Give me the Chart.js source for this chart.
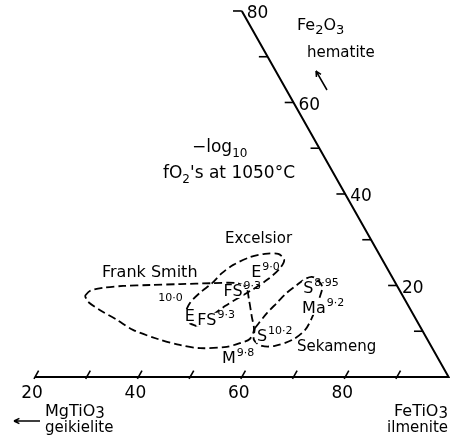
<!DOCTYPE html>
<html>
<head>
<meta charset="utf-8">
<script src="https://cdn.jsdelivr.net/npm/chart.js@4.4.0/dist/chart.umd.min.js"></script>
<style>
  html, body { margin: 0; padding: 0; background: #fff; }
  #wrap { width: 450px; height: 443px; }
</style>
</head>
<body>
<div id="wrap"><canvas id="chart"></canvas></div>
<script>
// Ternary frame (mol %): FeTiO3 along the base, Fe2O3 up the right edge
const baseTicks = [20, 30, 40, 50, 60, 70, 80, 90];
const baseLabels = [20, 40, 60, 80];
const edgeTicks = [10, 20, 30, 40, 50, 60, 70, 80];
const edgeLabels = [20, 40, 60, 80];

// Field outlines (FeTiO3 %, Fe2O3 %)
const frankSmithFeTiO3 = [20.8, 21.2, 23.4, 27.1, 32.2, 37.9, 44.0, 48.8, 51.1, 53.0, 55.4, 57.2, 57.4, 55.9, 53.8, 48.8, 44.5, 39.6, 33.8, 29.6, 25.3, 22.1];
const frankSmithFe2O3 = [17.7, 18.8, 19.5, 19.9, 20.1, 20.3, 20.5, 20.5, 19.5, 16.8, 13.1, 10.3, 8.3, 7.4, 6.6, 6.3, 7.0, 8.3, 10.3, 12.5, 14.6, 16.4];

const excelsiorFeTiO3 = [45.8, 43.6, 42.2, 41.9, 42.7, 44.0, 44.8, 46.1, 48.5, 51.0, 53.6, 55.4, 55.5, 54.4, 52.6, 50.9, 49.0, 47.3];
const excelsiorFe2O3 = [11.1, 12.0, 13.6, 16.2, 18.4, 20.5, 22.7, 24.5, 26.2, 26.9, 26.9, 25.6, 23.8, 21.4, 19.2, 17.5, 15.5, 13.1];

const sekamengFeTiO3 = [57.2, 57.9, 58.7, 59.5, 60.6, 61.5, 62.6, 64.1, 65.7, 66.3, 66.7, 67.1, 67.1, 65.7, 63.0, 60.5, 58.3];
const sekamengFe2O3 = [10.7, 14.0, 16.2, 18.4, 20.1, 21.4, 21.9, 21.2, 19.7, 17.7, 15.3, 12.9, 10.3, 8.1, 6.8, 6.8, 8.1];

// Samples and their -log10 fO2 at 1050 C
const sampleNames = ['E', 'FS', 'E', 'FS', 'S', 'M', 'S', 'Ma'];
const sampleFO2 = ['9·0', '9·3', '10·0', '9·3', '10·2', '9·8', '8·95', '9·2'];
const sampleFeTiO3 = [51.3, 48.9, 43.3, 47.0, 59.4, 55.4, 63.1, 66.4];
const sampleFe2O3 = [23.0, 18.8, 13.3, 12.5, 9.0, 4.2, 19.5, 15.1];

const FONT = '"DejaVu Sans", sans-serif';
const INK = '#000';

// composition -> plot coords (x along base, y = Fe2O3)
const toXY = (feTiO3, fe2O3) => ({ x: feTiO3 + fe2O3 / 2, y: fe2O3 });
const loop = (a, b) => {
  const pts = a.map((v, i) => toXY(v, b[i]));
  pts.push(pts[0]);
  return pts;
};

const solid = { showLine: true, borderColor: INK, pointRadius: 0, tension: 0 };
const dashed = {
  showLine: true, borderColor: INK, borderWidth: 1.8, borderDash: [8, 4],
  pointRadius: 0, tension: 0.3, fill: false
};

const datasets = [
  Object.assign({ data: [toXY(20, 0), toXY(100, 0), toXY(20, 80)], borderWidth: 2 }, solid)
];
baseTicks.forEach(t => {
  datasets.push(Object.assign({ data: [toXY(t, -0.4), toXY(t, 1.4)], borderWidth: 1.6 }, solid));
});
edgeTicks.forEach(t => {
  datasets.push(Object.assign({ data: [toXY(100 - t, t), toXY(100 - t - 1.7, t)], borderWidth: 1.6 }, solid));
});
datasets.push(Object.assign({ data: loop(frankSmithFeTiO3, frankSmithFe2O3) }, dashed));
datasets.push(Object.assign({ data: loop(excelsiorFeTiO3, excelsiorFe2O3) }, dashed));
datasets.push(Object.assign({ data: loop(sekamengFeTiO3, sekamengFe2O3) }, dashed));

function runs(ctx, x, y, parts) {
  ctx.textAlign = 'left';
  ctx.textBaseline = 'alphabetic';
  parts.forEach(p => {
    ctx.font = p[1] + 'px ' + FONT;
    ctx.fillText(p[0], x, y + (p[2] || 0));
    x += ctx.measureText(p[0]).width;
  });
  return x;
}

function runsWidth(ctx, parts) {
  let w = 0;
  parts.forEach(p => { ctx.font = p[1] + 'px ' + FONT; w += ctx.measureText(p[0]).width; });
  return w;
}

function arrow(ctx, x1, y1, x2, y2) {
  const a = Math.atan2(y2 - y1, x2 - x1);
  ctx.beginPath();
  ctx.moveTo(x1, y1);
  ctx.lineTo(x2, y2);
  ctx.moveTo(x2, y2);
  ctx.lineTo(x2 - 6 * Math.cos(a - 0.45), y2 - 6 * Math.sin(a - 0.45));
  ctx.moveTo(x2, y2);
  ctx.lineTo(x2 - 6 * Math.cos(a + 0.45), y2 - 6 * Math.sin(a + 0.45));
  ctx.stroke();
}

const labels = {
  id: 'labels',
  afterDatasetsDraw(chart) {
    const { ctx, scales: { x, y } } = chart;
    const px = p => [x.getPixelForValue(p.x), y.getPixelForValue(p.y)];
    ctx.save();
    ctx.fillStyle = INK;
    ctx.strokeStyle = INK;
    ctx.lineWidth = 1.5;

    // base numbers
    ctx.font = '17px ' + FONT;
    ctx.textAlign = 'center';
    ctx.textBaseline = 'middle';
    baseLabels.forEach(v => {
      const [cx] = px(toXY(v, 0));
      ctx.fillText(String(v), cx - 3, 394);
    });
    // right edge numbers
    ctx.textAlign = 'left';
    edgeLabels.forEach(v => {
      const [cx, cy] = px(toXY(100 - v, v));
      ctx.fillText(String(v), cx + 5, cy + 3);
    });

    // corner names
    runs(ctx, 45, 416, [['MgTiO', 16], ['3', 15, 2]]);
    ctx.font = '15px ' + FONT;
    ctx.fillText('geikielite', 45, 432);
    arrow(ctx, 40, 421, 14, 421);
    const fe = [['FeTiO', 16], ['3', 15, 2]];
    runs(ctx, 448 - runsWidth(ctx, fe), 416, fe);
    ctx.font = '15px ' + FONT;
    ctx.textAlign = 'right';
    ctx.fillText('ilmenite', 448, 432);
    runs(ctx, 297, 30, [['Fe', 16], ['2', 13, 4], ['O', 16], ['3', 13, 4]]);
    ctx.font = '15px ' + FONT;
    ctx.fillText('hematite', 307, 57);
    arrow(ctx, 327, 90, 316, 71);

    // title
    runs(ctx, 192, 152, [['\u2212log', 17], ['10', 12, 5]]);
    runs(ctx, 163, 178, [['f', 17], ['O', 17], ['2', 12, 5], ["'s at 1050°C", 17]]);

    // field names
    ctx.font = '15px ' + FONT;
    ctx.textAlign = 'left';
    ctx.fillText('Excelsior', 225, 243);
    ctx.font = '16px ' + FONT;
    ctx.fillText('Frank Smith', 102, 277);
    ctx.font = '15px ' + FONT;
    ctx.fillText('Sekameng', 297, 351);

    // sample labels with superscript fO2
    sampleNames.forEach((name, i) => {
      const [cx, cy] = px(toXY(sampleFeTiO3[i], sampleFe2O3[i]));
      ctx.font = '16px ' + FONT;
      const w = ctx.measureText(name).width;
      ctx.fillStyle = '#fff';
      ctx.fillRect(cx - w / 2 - 1, cy - 7, w + 2, 14);
      ctx.fillStyle = INK;
      ctx.textAlign = 'center';
      ctx.textBaseline = 'middle';
      ctx.fillText(name, cx, cy + 1);
      ctx.font = '11px ' + FONT;
      if (i === 2) {
        ctx.textAlign = 'right';
        ctx.fillText(sampleFO2[i], cx - w / 2 - 2, cy - 18);
      } else {
        ctx.textAlign = 'left';
        ctx.fillText(sampleFO2[i], cx + w / 2 + 1, cy - 5);
      }
    });
    ctx.restore();
  }
};

new Chart(document.getElementById('chart'), {
  type: 'scatter',
  data: { datasets },
  options: {
    responsive: true,
    maintainAspectRatio: false,
    animation: false,
    layout: { padding: 0 },
    plugins: { legend: { display: false }, tooltip: { enabled: false } },
    scales: {
      x: { type: 'linear', display: false, min: 13.23, max: 100.27 },
      y: { type: 'linear', display: false, min: -14.43, max: 82.4 }
    }
  },
  plugins: [labels]
});
</script>
</body>
</html>
